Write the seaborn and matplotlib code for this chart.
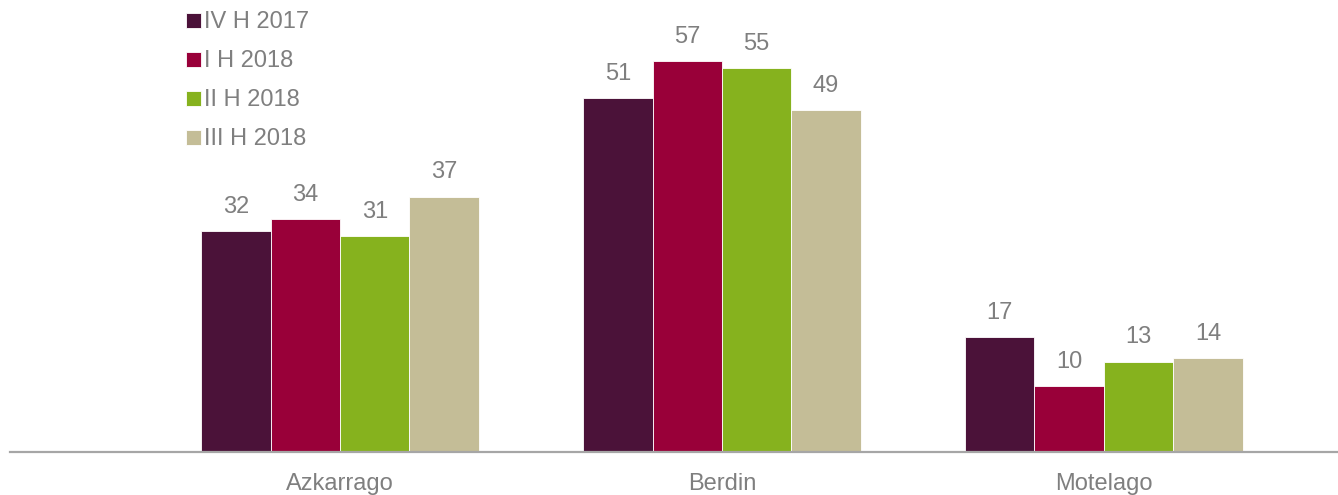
import matplotlib
matplotlib.use("Agg")
import matplotlib.pyplot as plt
import seaborn as sns
import pandas as pd

categories = ["Azkarrago", "Berdin", "Motelago"]
periods = ["IV H 2017", "I H 2018", "II H 2018", "III H 2018"]
# alturas (las etiquetas van redondeadas)
heights = {
    "IV H 2017": [32.0, 51.3, 16.6],
    "I H 2018": [33.8, 56.7, 9.6],
    "II H 2018": [31.3, 55.6, 13.1],
    "III H 2018": [37.0, 49.6, 13.6],
}
labels = {
    "IV H 2017": ["32", "51", "17"],
    "I H 2018": ["34", "57", "10"],
    "II H 2018": ["31", "55", "13"],
    "III H 2018": ["37", "49", "14"],
}
colors = ["#4B1239", "#990039", "#86B21E", "#C4BD97"]

rows = []
for p in periods:
    for c, v in zip(categories, heights[p]):
        rows.append({"categoria": c, "periodo": p, "valor": v})
df = pd.DataFrame(rows)

sns.set_style("white")
plt.rcParams["font.family"] = ["Liberation Sans", "DejaVu Sans"]
gris = "#7F7F7F"

fig = plt.figure(figsize=(13.38, 4.95), dpi=100)
ax = fig.add_axes([10 / 1338, 1 - 452 / 495, 1 - 10 / 1338, 452 / 495])

sns.barplot(data=df, x="categoria", y="valor", hue="periodo",
            order=categories, hue_order=periods, palette=colors,
            saturation=1, width=0.727, edgecolor="white", linewidth=0.6, ax=ax)

for cont, p in zip(ax.containers, periods):
    ax.bar_label(cont, labels=labels[p], padding=9.5, fontsize=17, color=gris)

ax.set_xlim(-0.864, 2.613)
ax.set_ylim(0, 65.5)
ax.set_xlabel("")
ax.set_ylabel("")
ax.set_yticks([])
ax.tick_params(axis="x", length=0, pad=15, labelsize=17, labelcolor=gris)
for s in ["top", "right", "left"]:
    ax.spines[s].set_visible(False)
ax.spines["bottom"].set_color("#A6A6A6")
ax.spines["bottom"].set_linewidth(1.6)

handles, leg_labels = ax.get_legend_handles_labels()
ax.legend(handles, leg_labels, loc="upper left",
          bbox_to_anchor=(177 / 1338, 1 - 2 / 495), bbox_transform=fig.transFigure,
          frameon=False, fontsize=17, labelcolor=gris,
          handlelength=0.6, handleheight=0.6, handletextpad=0.15,
          labelspacing=0.72, borderaxespad=0)

fig.savefig("out.png", dpi=100)
